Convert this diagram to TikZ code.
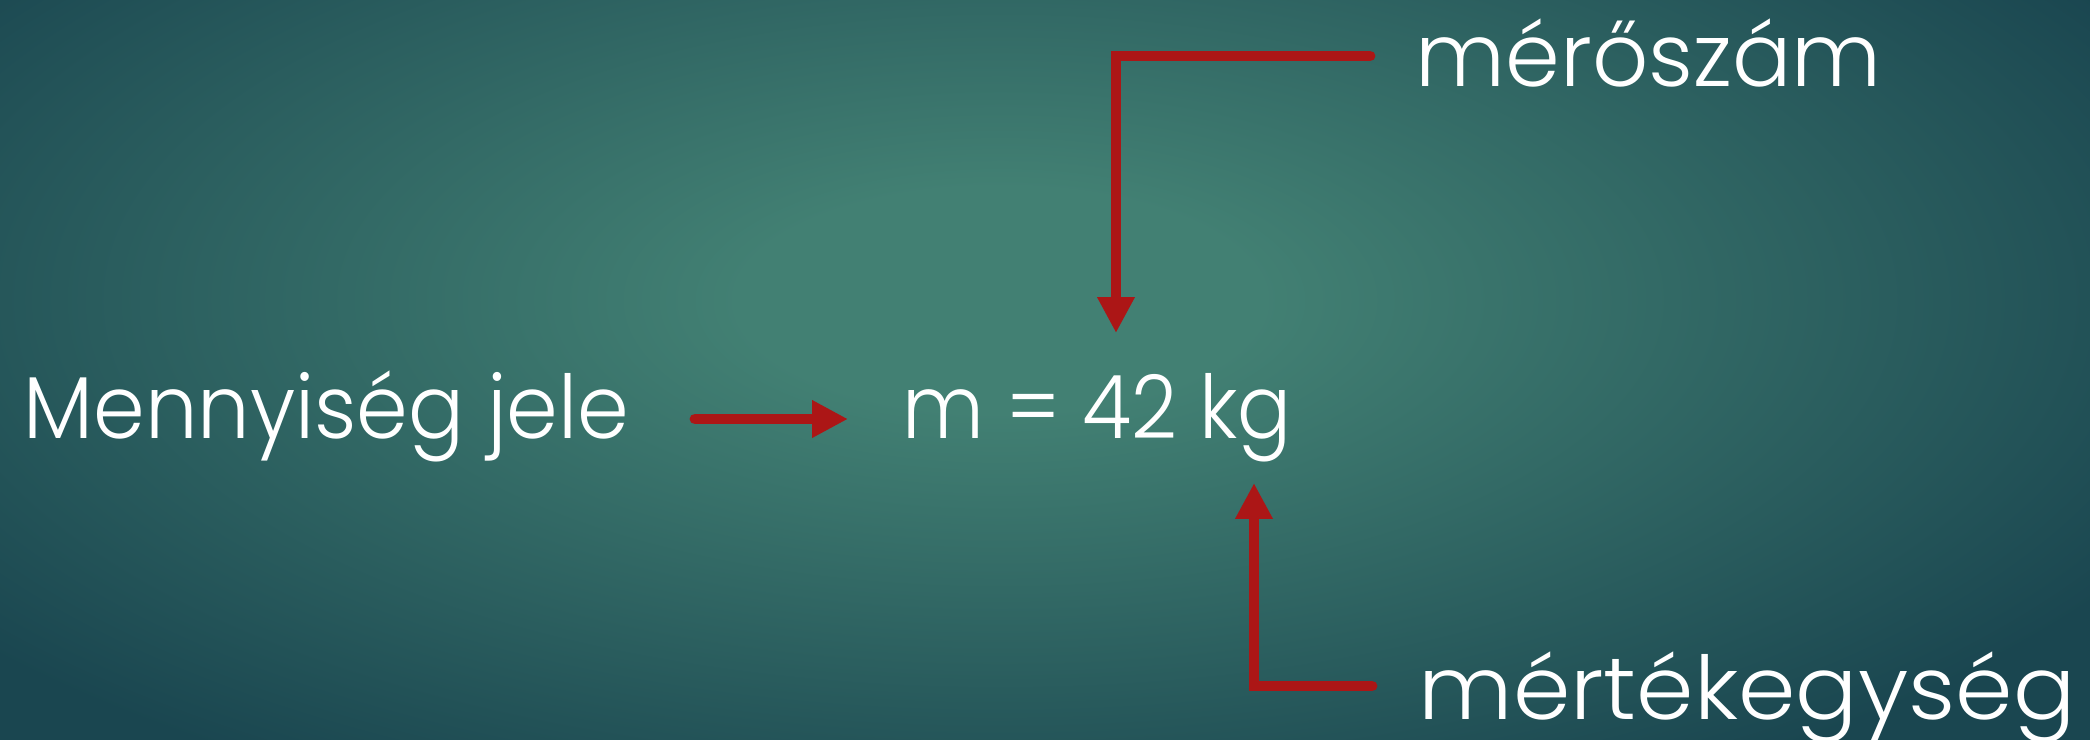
\documentclass[tikz,border=0pt]{standalone}
\usepackage{fontspec}
\setmainfont{Poppins Light}
\usetikzlibrary{arrows.meta}
\definecolor{bgin}{RGB}{66,128,115}
\definecolor{bgout}{RGB}{26,70,80}
\definecolor{arrowred}{RGB}{172,22,22}
\pgfdeclareradialshading{bgshade}{\pgfpoint{0bp}{0bp}}{color(0bp)=(bgin); color(5bp)=(bgin); color(25bp)=(bgout); color(50bp)=(bgout)}
\tikzset{
  lbl/.style={text=white, inner sep=0pt, anchor=base west, font=\fontsize{25}{30}\selectfont},
  redarrow/.style={draw=arrowred, line width=3.1pt, line cap=round, line join=miter, -{Triangle[length=10.2pt,width=10pt]}},
}
\begin{document}
\begin{tikzpicture}[x=0.01cm, y=-0.01cm]
\useasboundingbox (0,0) rectangle (2090,739);
\begin{scope}
\clip (0,0) rectangle (2090,739);
\fill[shading=bgshade] (-300,-260) rectangle (2300,860);
\end{scope}
% texts
\node[lbl] (qty) at (23,438) {\scalebox{0.944}[1]{Mennyiség jele}};
\node[lbl] (eq) at (902,438) {\scalebox{0.91}[1]{m = 42 kg}};
\node[lbl] (num) at (1415,86) {mérőszám};
\node[lbl] (unit) at (1418,719) {\scalebox{1.05}[1]{mértékegység}};
% arrow ends
\coordinate (a1s) at (695,419);
\coordinate (a1e) at (848,419);
\coordinate (a2s) at (1370,56);
\coordinate (a2e) at (1116,333);
\coordinate (a3s) at (1372,686);
\coordinate (a3e) at (1254,483);
\draw[redarrow] (a1s) -- (a1e);
\draw[redarrow] (a2s) -| (a2e);
\draw[redarrow] (a3s) -| (a3e);
\end{tikzpicture}
\end{document}
